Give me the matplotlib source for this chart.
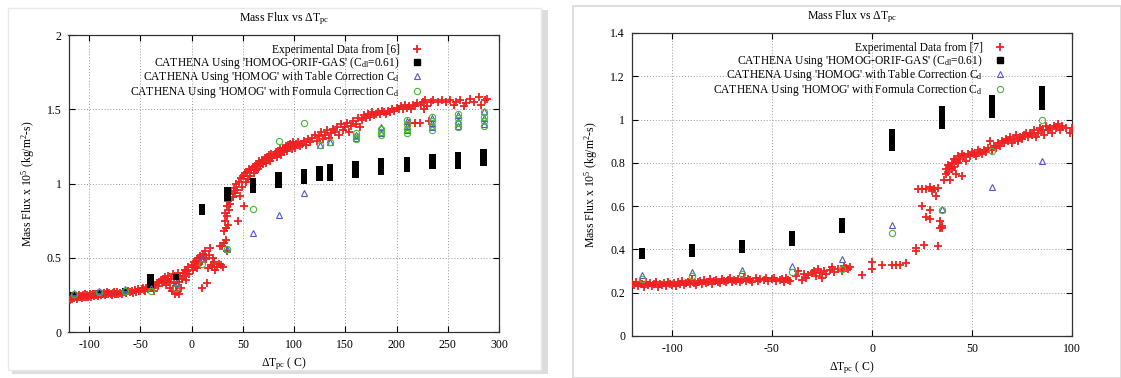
import matplotlib
matplotlib.use("Agg")
import matplotlib.pyplot as plt
from matplotlib.patches import Rectangle

plt.rcParams["font.family"] = ["Liberation Serif", "DejaVu Serif"]
plt.rcParams["mathtext.fontset"] = "custom"
plt.rcParams["mathtext.rm"] = "Liberation Serif"
plt.rcParams["mathtext.it"] = "Liberation Serif:italic"
plt.rcParams["axes.unicode_minus"] = False

# ---------------- left panel data ----------------
exp_l = [
    (-119, 0.22), (-118, 0.235), (-117, 0.225), (-116, 0.24), (-115, 0.23), (-114, 0.245), (-113, 0.235),
    (-112, 0.225), (-111, 0.24), (-110, 0.25), (-109, 0.235), (-108, 0.245), (-107, 0.23), (-106, 0.25),
    (-105, 0.24), (-104, 0.255), (-103, 0.24), (-102, 0.25), (-101, 0.235), (-100, 0.245), (-99, 0.255),
    (-98, 0.24), (-97, 0.25), (-96, 0.26), (-95, 0.245), (-94, 0.255), (-93, 0.25), (-92, 0.26), (-91, 0.245),
    (-90, 0.255), (-89, 0.265), (-88, 0.25), (-87, 0.26), (-86, 0.255), (-85, 0.265), (-84, 0.25), (-83, 0.26),
    (-82, 0.27), (-81, 0.255), (-80, 0.265), (-79, 0.26), (-78, 0.25), (-77, 0.265), (-76, 0.27), (-75, 0.26),
    (-74, 0.255), (-73, 0.27), (-72, 0.26), (-70, 0.265), (-68, 0.255), (-66, 0.27), (-64, 0.265), (-62, 0.275),
    (-60, 0.27), (-58, 0.28), (-57, 0.265), (-55, 0.285), (-54, 0.27), (-52, 0.29), (-51, 0.28), (-50, 0.275),
    (-48, 0.29), (-47, 0.30), (-46, 0.285), (-45, 0.28), (-44, 0.295), (-43, 0.30), (-42, 0.29), (-40, 0.31),
    (-38, 0.30), (-37, 0.28), (-36, 0.32), (-34, 0.33), (-33, 0.31), (-32, 0.34), (-30, 0.35), (-29, 0.33),
    (-28, 0.36), (-27, 0.34), (-26, 0.37), (-25, 0.32), (-24, 0.35), (-23, 0.38), (-22, 0.34), (-21, 0.30),
    (-20, 0.36), (-19, 0.28), (-18, 0.39), (-17, 0.33), (-16, 0.26), (-15, 0.31), (-14, 0.36), (-14, 0.27),
    (-13, 0.40), (-12, 0.34), (-12, 0.26), (-11, 0.38), (-10, 0.30), (-9, 0.36), (-8, 0.40), (-7, 0.38),
    (-6, 0.42), (-5, 0.35), (-4, 0.41), (-3, 0.44), (-2, 0.39), (0, 0.45), (1, 0.42), (2, 0.47), (3, 0.44),
    (4, 0.48), (5, 0.43), (6, 0.50), (7, 0.46), (8, 0.51), (9, 0.47), (10, 0.30), (11, 0.53), (12, 0.50),
    (13, 0.55), (14, 0.49), (15, 0.33), (16, 0.43), (17, 0.52), (18, 0.57), (19, 0.45), (20, 0.44), (21, 0.50),
    (22, 0.47), (23, 0.42), (25, 0.44), (27, 0.46), (28, 0.58), (29, 0.45), (30, 0.58), (31, 0.44),
    (32, 0.60), (32, 0.68), (33, 0.75), (33, 0.80), (34, 0.70), (34, 0.62), (35, 0.78), (35, 0.85), (35, 0.55),
    (36, 0.88), (36, 0.72), (37, 0.90), (37, 0.82), (38, 0.93), (38, 0.86), (39, 0.95), (40, 0.91), (41, 0.97),
    (42, 0.94), (43, 1.00), (44, 0.96), (45, 0.75), (46, 1.01), (47, 0.92), (48, 1.04), (49, 0.98), (50, 1.05),
    (51, 0.85), (52, 1.07), (53, 1.01), (54, 1.08), (55, 1.03), (56, 1.10), (57, 1.05), (58, 1.09), (60, 1.11),
    (61, 1.07), (62, 1.12), (63, 1.09), (64, 1.13), (65, 1.10), (66, 1.15), (67, 1.12), (68, 1.14), (69, 1.16),
    (70, 1.13), (71, 1.15), (72, 1.17), (73, 1.14), (74, 1.18), (75, 1.16), (76, 1.19), (77, 1.15), (78, 1.20),
    (79, 1.17), (80, 1.19), (82, 1.21), (83, 1.18), (84, 1.22), (85, 1.20), (86, 1.23), (87, 1.19), (88, 1.22),
    (89, 1.24), (90, 1.21), (91, 1.23), (92, 1.25), (93, 1.22), (94, 1.26), (95, 1.24), (96, 1.27), (97, 1.25),
    (98, 1.23), (99, 1.28), (100, 1.26), (101, 1.24), (102, 1.27), (104, 1.28), (106, 1.25), (108, 1.27),
    (110, 1.29), (112, 1.26), (114, 1.30), (116, 1.28), (118, 1.31), (120, 1.33), (122, 1.29), (124, 1.32),
    (126, 1.35), (128, 1.30), (130, 1.33), (132, 1.36), (134, 1.31), (136, 1.34), (138, 1.37), (140, 1.35),
    (142, 1.38), (144, 1.33), (146, 1.40), (148, 1.36), (150, 1.38), (152, 1.41), (154, 1.35), (156, 1.39),
    (158, 1.42), (160, 1.40), (162, 1.44), (164, 1.38), (166, 1.43), (168, 1.46), (170, 1.44), (172, 1.47),
    (174, 1.45), (176, 1.48), (178, 1.46), (180, 1.47), (182, 1.48), (184, 1.47), (186, 1.49), (188, 1.48),
    (190, 1.47), (192, 1.49), (194, 1.48), (196, 1.50), (198, 1.49), (200, 1.51), (202, 1.50), (204, 1.52),
    (206, 1.50), (208, 1.53), (210, 1.51), (212, 1.52), (213, 1.41), (214, 1.50), (216, 1.53), (218, 1.41),
    (218, 1.52), (220, 1.54), (223, 1.41), (224, 1.53), (226, 1.55), (227, 1.50), (228, 1.56), (230, 1.52),
    (232, 1.42), (234, 1.55), (236, 1.56), (240, 1.55), (244, 1.56), (248, 1.55), (252, 1.56), (256, 1.53),
    (258, 1.55), (262, 1.56), (266, 1.52), (268, 1.54), (272, 1.57), (276, 1.55), (280, 1.58), (282, 1.53),
    (286, 1.56), (288, 1.57),
]

blk_l_x = [-115, -90, -65, -40, -15, 10, 35, 60, 85, 110, 125, 135, 160, 185, 210, 235, 260, 285]
blk_l_lo = [0.25, 0.265, 0.28, 0.30, 0.355, 0.79, 0.88, 0.94, 0.97, 1.00, 1.02, 1.02, 1.04, 1.06, 1.08, 1.10, 1.10, 1.12]
blk_l_hi = [0.27, 0.285, 0.30, 0.39, 0.39, 0.86, 0.98, 1.04, 1.08, 1.10, 1.12, 1.13, 1.15, 1.17, 1.18, 1.20, 1.21, 1.23]

tri_l = [(-115, 0.265), (-90, 0.275), (-65, 0.29), (-40, 0.30), (-15, 0.335), (10, 0.50), (35, 0.56),
         (60, 0.67), (85, 0.79), (110, 0.94), (125, 1.26), (135, 1.28), (160, 1.31), (160, 1.33),
         (185, 1.34), (185, 1.38), (210, 1.36), (210, 1.39), (210, 1.42), (235, 1.38), (235, 1.41),
         (235, 1.44), (260, 1.39), (260, 1.42), (260, 1.46), (285, 1.40), (285, 1.44), (285, 1.49)]

circ_l = [(-115, 0.26), (-90, 0.27), (-65, 0.28), (-40, 0.28), (-15, 0.30), (10, 0.46), (35, 0.56),
          (60, 0.83), (85, 1.29), (110, 1.41), (125, 1.26), (135, 1.28), (160, 1.30), (160, 1.32),
          (160, 1.34), (185, 1.33), (185, 1.35), (185, 1.37), (210, 1.34), (210, 1.37), (210, 1.40),
          (210, 1.43), (235, 1.36), (235, 1.39), (235, 1.42), (235, 1.45), (260, 1.38), (260, 1.41),
          (260, 1.44), (260, 1.47), (285, 1.39), (285, 1.42), (285, 1.45), (285, 1.48)]

# ---------------- right panel data ----------------
exp_r = [
    (-120, 0.24), (-119, 0.235), (-118, 0.25), (-117, 0.23), (-116, 0.245), (-115, 0.24), (-114, 0.225),
    (-113, 0.25), (-112, 0.235), (-111, 0.245), (-110, 0.23), (-109, 0.24), (-108, 0.25), (-107, 0.225),
    (-106, 0.24), (-105, 0.235), (-104, 0.245), (-103, 0.23), (-102, 0.25), (-101, 0.24), (-100, 0.235),
    (-99, 0.245), (-98, 0.23), (-97, 0.25), (-96, 0.24), (-95, 0.255), (-94, 0.235), (-93, 0.245),
    (-92, 0.25), (-91, 0.24), (-90, 0.26), (-89, 0.245), (-88, 0.235), (-87, 0.25), (-86, 0.255),
    (-85, 0.24), (-84, 0.26), (-83, 0.245), (-82, 0.25), (-81, 0.265), (-80, 0.24), (-79, 0.255),
    (-78, 0.26), (-77, 0.25), (-76, 0.245), (-75, 0.265), (-74, 0.255), (-73, 0.25), (-72, 0.26),
    (-71, 0.27), (-70, 0.25), (-69, 0.26), (-68, 0.255), (-67, 0.265), (-66, 0.25), (-65, 0.26),
    (-64, 0.27), (-63, 0.255), (-62, 0.265), (-61, 0.26), (-60, 0.25), (-58, 0.27), (-57, 0.255),
    (-56, 0.265), (-54, 0.26), (-53, 0.27), (-52, 0.255), (-50, 0.265), (-49, 0.27), (-48, 0.255),
    (-46, 0.26), (-45, 0.265), (-44, 0.25), (-43, 0.27), (-42, 0.26), (-41, 0.255), (-38, 0.275),
    (-37, 0.30), (-35, 0.26), (-34, 0.285), (-33, 0.27), (-32, 0.28), (-30, 0.29), (-29, 0.30),
    (-28, 0.275), (-27, 0.31), (-26, 0.29), (-25, 0.27), (-24, 0.30), (-23, 0.285), (-21, 0.305),
    (-20, 0.32), (-19, 0.295), (-17, 0.31), (-15, 0.30), (-14, 0.325), (-13, 0.315), (-12, 0.31),
    (-11, 0.32), (-5, 0.28), (0, 0.34), (0, 0.31), (5, 0.33), (10, 0.33), (12, 0.33), (14, 0.33),
    (17, 0.335), (22, 0.395), (22, 0.405), (26, 0.42), (23, 0.68), (25, 0.68), (27, 0.68), (25, 0.60),
    (27, 0.55), (29, 0.54), (29, 0.58), (29, 0.69), (30, 0.67), (31, 0.68), (32, 0.645), (33, 0.685),
    (33, 0.415), (34, 0.53), (34, 0.50), (35, 0.50), (35, 0.51), (36, 0.72), (37, 0.75), (37, 0.77),
    (38, 0.79), (38, 0.76), (39, 0.78), (39, 0.72), (40, 0.80), (40, 0.77), (41, 0.82), (41, 0.78),
    (42, 0.81), (42, 0.75), (43, 0.83), (43, 0.80), (44, 0.82), (45, 0.84), (45, 0.74), (46, 0.83),
    (47, 0.81), (48, 0.84), (49, 0.83), (50, 0.85), (51, 0.84), (52, 0.83), (53, 0.86), (54, 0.85),
    (55, 0.84), (56, 0.86), (57, 0.85), (58, 0.87), (59, 0.90), (60, 0.86), (61, 0.88), (62, 0.87),
    (63, 0.89), (64, 0.88), (65, 0.90), (66, 0.89), (67, 0.91), (68, 0.90), (69, 0.92), (70, 0.89),
    (71, 0.91), (72, 0.93), (73, 0.90), (74, 0.92), (75, 0.91), (76, 0.93), (77, 0.94), (78, 0.92),
    (79, 0.94), (80, 0.93), (81, 0.95), (82, 0.92), (83, 0.94), (84, 0.96), (85, 0.95), (86, 0.93),
    (87, 0.97), (88, 0.95), (89, 0.96), (90, 0.94), (91, 0.97), (92, 0.96), (93, 0.98), (94, 0.95),
    (95, 0.97), (97, 0.96), (99, 0.94), (100, 0.96),
]

blk_r_x = [-115, -90, -65, -40, -15, 10, 35, 60, 85]
blk_r_lo = [0.355, 0.365, 0.385, 0.415, 0.475, 0.855, 0.955, 1.005, 1.045]
blk_r_hi = [0.405, 0.425, 0.445, 0.485, 0.545, 0.955, 1.065, 1.115, 1.155]

tri_r_x = [-115, -90, -65, -40, -15, 10, 35, 60, 85]
tri_r_y = [0.28, 0.295, 0.305, 0.325, 0.355, 0.515, 0.585, 0.69, 0.81]
circ_r_y = [0.265, 0.275, 0.285, 0.295, 0.31, 0.475, 0.58, 0.855, 1.0]

labels_l = ["Experimental Data from [6]",
            r"CATHENA Using 'HOMOG-ORIF-GAS' (C$_{\mathrm{dl}}$=0.61)",
            r"CATHENA Using 'HOMOG' with Table Correction C$_{\mathrm{d}}$",
            r"CATHENA Using 'HOMOG' with Formula Correction C$_{\mathrm{d}}$"]
labels_r = [labels_l[0].replace("[6]", "[7]")] + labels_l[1:]

RED = "#ee2222"
BLUE = "#5555cc"
GREEN = "#44bb33"
FS = 8.5

fig = plt.figure(figsize=(11.21, 3.78), dpi=100)

# scanned page cards (behind the axes)
fig.patches.append(Rectangle((12 / 1121, 4 / 378), 536 / 1121, 364 / 378, transform=fig.transFigure,
                             facecolor="#dddddd", edgecolor="none", zorder=-3))
fig.patches.append(Rectangle((8 / 1121, 8 / 378), 533 / 1121, 362 / 378, transform=fig.transFigure,
                             facecolor="white", edgecolor="#e8e8e8", lw=1, zorder=-2))
fig.patches.append(Rectangle((573 / 1121, 0), 548 / 1121, 372 / 378, transform=fig.transFigure,
                             facecolor="white", edgecolor="#d8d8d8", lw=1.2, zorder=-2))

ax1 = fig.add_axes([68.5 / 1121, 1 - 332.3 / 378, 430.5 / 1121, 297.3 / 378])
ax2 = fig.add_axes([632 / 1121, 1 - 336 / 378, 440 / 1121, 303 / 378])


def draw_panel(ax, exp, bx, blo, bhi, bw, tx, ty, cx, cy, labels, xlim, ylim, xt, yt, ytl, legx):
    ax.set_facecolor("none")
    ex = [p[0] for p in exp]
    ey = [p[1] for p in exp]
    ax.plot(ex, ey, "+", color=RED, ms=5.5, mew=1.3, label=labels[0], zorder=3)
    heights = [h - l for l, h in zip(blo, bhi)]
    ax.bar(bx, heights, bottom=blo, width=bw, color="black", zorder=4)
    ax.plot([], [], "s", color="black", ms=4.2, label=labels[1])
    ax.plot(tx, ty, "^", mfc="none", mec=BLUE, ms=4, mew=0.8, label=labels[2], zorder=5)
    ax.plot(cx, cy, "o", mfc="none", mec=GREEN, ms=4.5, mew=0.8, label=labels[3], zorder=5)
    ax.set_xlim(*xlim)
    ax.set_ylim(*ylim)
    ax.set_xticks(xt)
    ax.set_yticks(yt)
    ax.set_yticklabels(ytl)
    ax.grid(True, ls=(0, (1, 2)), color="#999999", lw=0.7)
    ax.tick_params(direction="in", length=4, top=True, right=True, labelsize=FS, pad=5)
    for s in ax.spines.values():
        s.set_linewidth(0.9)
        s.set_color("#333333")
    ax.set_title(r"Mass Flux vs $\Delta$T$_{\mathrm{pc}}$", fontsize=FS, pad=10)
    ax.set_xlabel(r"$\Delta$T$_{\mathrm{pc}}$ ( C)", fontsize=FS, labelpad=3)
    ax.set_ylabel(r"Mass Flux x 10$^5$ (kg/m$^2$-s)", fontsize=FS, labelpad=7)
    ax.legend(loc="upper right", bbox_to_anchor=(legx, 1.0), markerfirst=False, frameon=False,
              fontsize=8.3, handlelength=1.0, handletextpad=1.0, labelspacing=-0.12, borderpad=0.3)


draw_panel(ax1, exp_l, blk_l_x, blk_l_lo, blk_l_hi, 6.3,
           [p[0] for p in tri_l], [p[1] for p in tri_l],
           [p[0] for p in circ_l], [p[1] for p in circ_l],
           labels_l, (-120, 300), (0, 2), range(-100, 301, 50),
           [0, 0.5, 1, 1.5, 2], ["0", "0.5", "1", "1.5", "2"], 0.845)

draw_panel(ax2, exp_r, blk_r_x, blk_r_lo, blk_r_hi, 3.0,
           tri_r_x, tri_r_y, tri_r_x, circ_r_y,
           labels_r, (-120, 100), (0, 1.4), range(-100, 101, 50),
           [0, 0.2, 0.4, 0.6, 0.8, 1.0, 1.2, 1.4], ["0", "0.2", "0.4", "0.6", "0.8", "1", "1.2", "1.4"], 0.87)

fig.savefig("out.png", dpi=100)
